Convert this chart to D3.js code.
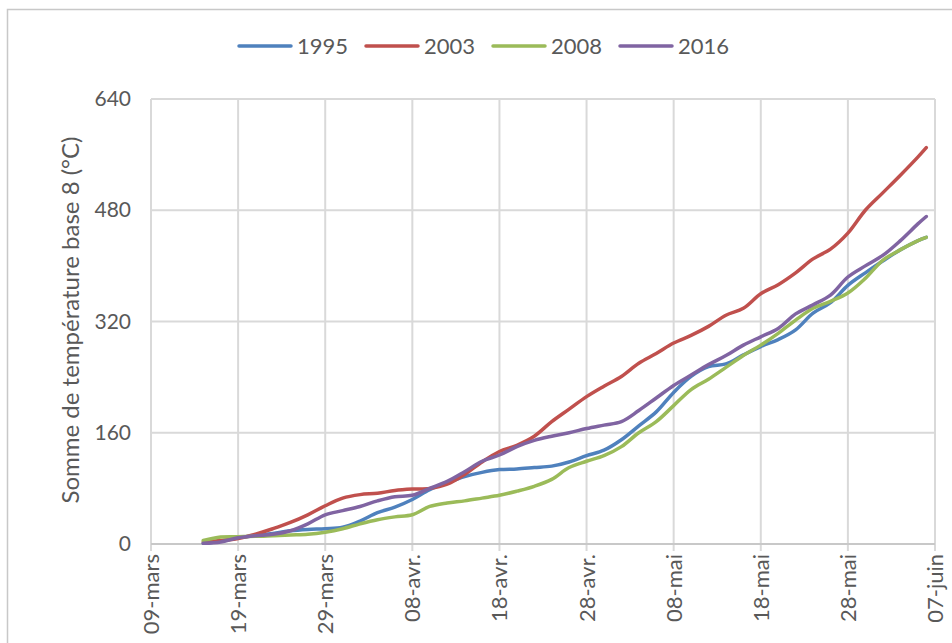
<!DOCTYPE html>
<html>
<head>
<meta charset="utf-8">
<script src="https://cdn.jsdelivr.net/npm/d3@7"></script>
<style>
  body { margin: 0; background: #fff; }
  text { font-family: Lato, "Open Sans", sans-serif; fill: #595959; }
</style>
</head>
<body>
<div id="chart"></div>
<script>
// dates (dd-mm) of the readings, one point every 2 days
var dates = ["15-03","17-03","19-03","21-03","23-03","25-03","27-03","29-03","31-03",
  "02-04","04-04","06-04","08-04","10-04","12-04","14-04","16-04","18-04","20-04",
  "22-04","24-04","26-04","28-04","30-04","02-05","04-05","06-05","08-05","10-05",
  "12-05","14-05","16-05","18-05","20-05","22-05","24-05","26-05","28-05","30-05",
  "01-06","03-06","05-06","06-06"];

var series1995 = [1,4,9,12,15,19,21,22,24,33,45,53,64,78,88,97,103,107,108,110,112,118,127,135,
  150,170,190,218,241,255,259,272,284,294,308,332,347,372,390,407,423,436,441];
var series2003 = [3,5,8,14,22,31,42,55,66,71,73,77,79,80,86,100,118,133,142,155,176,194,212,227,
  241,260,274,289,300,313,329,339,360,373,390,410,424,447,480,505,530,556,570];
var series2008 = [5,10,10.5,11,12,13,14,17,22,29,35,39,42,54,59,62,66,70,76,83,93,110,119,127,
  140,160,176,199,222,237,254,271,286,303,322,339,349,361,382,408,423,436,441];
var series2016 = [1,3,9,12,14,19,29,42,48,54,62,68,70,80,90,104,119,128,140,149,155,160,166,171,
  176,192,210,228,243,258,271,286,298,310,331,344,358,384,400,415,436,460,471];

var seriesNames = ["1995", "2003", "2008", "2016"];
var seriesColors = ["#4f81bd", "#c0504d", "#9bbb59", "#8064a2"];

var xTickDates = ["09-03","19-03","29-03","08-04","18-04","28-04","08-05","18-05","28-05","07-06"];
var xTickLabels = ["09-mars","19-mars","29-mars","08-avr.","18-avr.","28-avr.","08-mai","18-mai","28-mai","07-juin"];
var yTicks = [0, 160, 320, 480, 640];

var width = 952, height = 643;
var parse = function(s) { return d3.timeParse("%d-%m-%Y")(s + "-2015"); };

var svg = d3.select("#chart").append("svg")
  .attr("width", width)
  .attr("height", height);

// outer chart border
svg.append("rect")
  .attr("x", 7.5).attr("y", 9.5)
  .attr("width", 980).attr("height", 680)
  .attr("fill", "none")
  .attr("stroke", "#c8c8c8")
  .attr("stroke-width", 1.5);

var x = d3.scaleTime()
  .domain([parse(xTickDates[0]), parse(xTickDates[xTickDates.length - 1])])
  .range([151, 935]);
var y = d3.scaleLinear().domain([0, 640]).range([544, 99]);

// gridlines
svg.append("g").selectAll("line.h")
  .data(yTicks.slice(1))
  .enter().append("line")
  .attr("x1", 151).attr("x2", 935)
  .attr("y1", function(d) { return y(d); })
  .attr("y2", function(d) { return y(d); })
  .attr("stroke", "#d9d9d9").attr("stroke-width", 2);

svg.append("g").selectAll("line.v")
  .data(xTickDates)
  .enter().append("line")
  .attr("x1", function(d) { return x(parse(d)); })
  .attr("x2", function(d) { return x(parse(d)); })
  .attr("y1", 99).attr("y2", 551)
  .attr("stroke", "#d9d9d9").attr("stroke-width", 2);

// x axis line
svg.append("line")
  .attr("x1", 151).attr("x2", 935)
  .attr("y1", 544).attr("y2", 544)
  .attr("stroke", "#c8c8c8").attr("stroke-width", 2);

// y axis labels
var yAxis = svg.append("g")
  .attr("transform", "translate(151,0)")
  .call(d3.axisLeft(y).tickValues(yTicks).tickSize(0).tickPadding(20));
yAxis.select(".domain").remove();
yAxis.selectAll("text")
  .attr("font-size", "21px")
  .style("font-family", "Lato, sans-serif")
  .attr("fill", "#595959");

// x axis labels, rotated
svg.append("g").selectAll("text.xl")
  .data(xTickDates)
  .enter().append("text")
  .attr("transform", function(d) { return "translate(" + (x(parse(d)) + 8) + ",554) rotate(-90)"; })
  .attr("text-anchor", "end")
  .attr("font-size", "22px")
  .text(function(d, i) { return xTickLabels[i]; });

// y title
svg.append("text")
  .attr("transform", "translate(79,320) rotate(-90)")
  .attr("text-anchor", "middle")
  .attr("font-size", "24px")
  .text("Somme de température base 8 (°C)");

// lines
var allSeries = [series1995, series2003, series2008, series2016];
var line = d3.line()
  .x(function(d) { return x(d.date); })
  .y(function(d) { return y(d.value); })
  .curve(d3.curveCatmullRom.alpha(0.5));

allSeries.forEach(function(values, k) {
  var pts = dates.map(function(dt, i) { return { date: parse(dt), value: values[i] }; });
  svg.append("path")
    .datum(pts)
    .attr("d", line)
    .attr("fill", "none")
    .attr("stroke", seriesColors[k])
    .attr("stroke-width", 3.5)
    .attr("stroke-linejoin", "round")
    .attr("stroke-linecap", "round");
});

// legend
var legendX = [239, 366, 493, 620];
var legend = svg.append("g").selectAll("g")
  .data(seriesNames)
  .enter().append("g")
  .attr("transform", function(d, i) { return "translate(" + legendX[i] + ",46)"; });
legend.append("line")
  .attr("x1", 0).attr("x2", 52)
  .attr("stroke", function(d, i) { return seriesColors[i]; })
  .attr("stroke-width", 3.5)
  .attr("stroke-linecap", "round");
legend.append("text")
  .attr("x", 58).attr("dy", "0.35em")
  .attr("font-size", "22px")
  .text(function(d) { return d; });
</script>
</body>
</html>
